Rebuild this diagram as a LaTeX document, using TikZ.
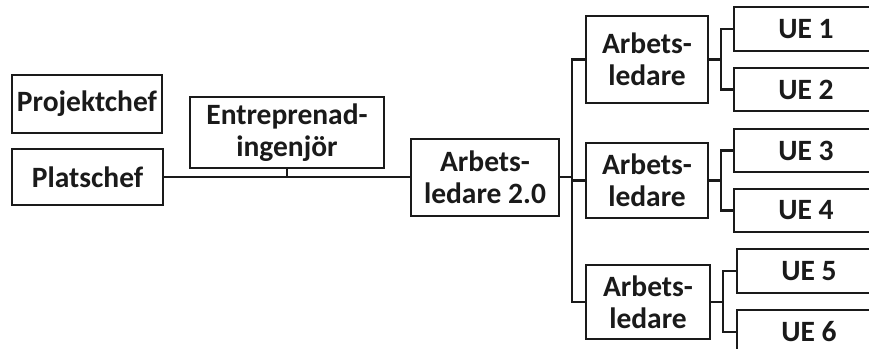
\documentclass[tikz,border=0pt]{standalone}
\usepackage{fontspec}
\setmainfont{Carlito}
\definecolor{ink}{HTML}{1A1A1A}
\tikzset{
  box/.style={draw=ink, line width=2.8pt, text=ink, align=center, inner sep=0pt,
    font=\bfseries\fontsize{29.5}{32}\selectfont, rectangle},
  link/.style={draw=ink, line width=2.8pt}
}
\begin{document}
\begin{tikzpicture}[x=1pt,y=-1pt]
\useasboundingbox (0,0) rectangle (869,348);
\clip (0,0) rectangle (869,348);
\fill[white] (0,0) rectangle (869,348);
% left part
\node[box, minimum width=150pt, minimum height=58pt] (pc) at (87,104) {Projektchef};
\node[box, minimum width=151pt, minimum height=56pt] (pl) at (87.5,177) {Platschef};
\node[box, minimum width=194pt, minimum height=71pt] (en) at (287,132.5) {Entreprenad-\\ingenjör};
\node[box, minimum width=148pt, minimum height=77pt] (al) at (485,177.5) {Arbets-\\ledare 2.0};
% middle column
\node[box, minimum width=122pt, minimum height=87pt] (a1) at (647,59.5) {Arbets-\\ledare};
\node[box, minimum width=122pt, minimum height=75pt] (a2) at (647,180.5) {Arbets-\\ledare};
\node[box, minimum width=124pt, minimum height=74pt] (a3) at (648,302) {Arbets-\\ledare};
% UE column
\node[box, minimum width=144pt, minimum height=44pt] (u1) at (806,29) {UE 1};
\node[box, minimum width=144pt, minimum height=43pt] (u2) at (806,89.5) {UE 2};
\node[box, minimum width=144pt, minimum height=43pt] (u3) at (806,150.5) {UE 3};
\node[box, minimum width=144pt, minimum height=43pt] (u4) at (806,210.5) {UE 4};
\node[box, minimum width=144pt, minimum height=44pt] (u5) at (809,271) {UE 5};
\node[box, minimum width=144pt, minimum height=44pt] (u6) at (809,332) {UE 6};
% connectors
\draw[link] (pl.east) -- (pl.east -| al.west);
\draw[link] (en.south) -- (en.south |- pl.east);
\coordinate (j0) at (572,177);
\draw[link] (al.east |- j0) -- (j0);
\draw[link] (a1.west) -| (j0) |- (a3.west);
\draw[link] (j0 |- a2.west) -- (a2.west);
\coordinate (j1) at (721,59.5);
\draw[link] (a1.east) -- (j1);
\draw[link] (u1.west) -| (j1) |- (u2.west);
\coordinate (j2) at (721,180.5);
\draw[link] (a2.east) -- (j2);
\draw[link] (u3.west) -| (j2) |- (u4.west);
\coordinate (j3) at (723,302);
\draw[link] (a3.east) -- (j3);
\draw[link] (u5.west) -| (j3) |- (u6.west);
\end{tikzpicture}
\end{document}
